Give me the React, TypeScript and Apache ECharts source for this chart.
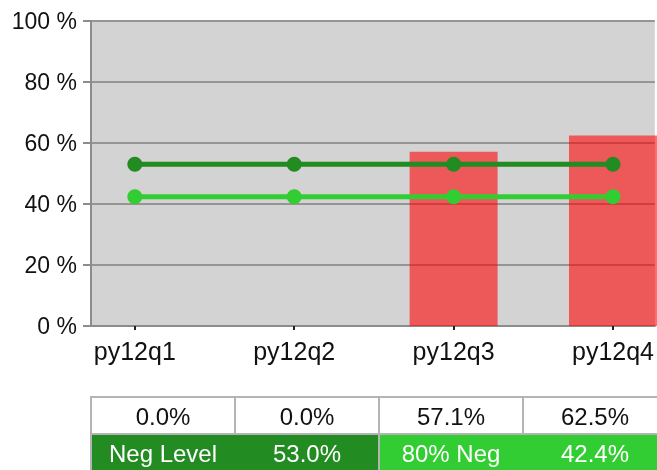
import React, { useEffect, useRef } from "react";
import * as echarts from "echarts";

const categories = ["py12q1", "py12q2", "py12q3", "py12q4"];
const barValues = [0.0, 0.0, 57.1, 62.5];
const negLevelValues = [53.0, 53.0, 53.0, 53.0];
const neg80Values = [42.4, 42.4, 42.4, 42.4];
const lineNames = ["Neg Level", "80% Neg"];
const lineColors = ["#228b22", "#32cd32"];
const yTicks = [0, 20, 40, 60, 80, 100];

const FONT = "'Liberation Sans', Arial, sans-serif";

export default function App() {
  const ref = useRef<HTMLDivElement>(null);

  useEffect(() => {
    if (!ref.current) return;
    const chart = echarts.init(ref.current, undefined, { renderer: "svg" });
    const idx = categories.map((_, i) => i);

    // table layout
    const tLeft = 91;
    const colW = 144;
    const rowH = 37;
    const row1Top = 397;
    const row2Top = row1Top + rowH;
    const border = "#b4b4b4";
    const tableFont = `24px ${FONT}`;
    const graphics: any[] = [];
    barValues.forEach((v, i) => {
      graphics.push({
        type: "rect",
        shape: { x: tLeft + i * colW, y: row1Top, width: colW, height: rowH },
        style: { fill: "#ffffff", stroke: border, lineWidth: 2 },
      });
      graphics.push({
        type: "text",
        x: tLeft + i * colW + colW / 2,
        y: row1Top + rowH / 2 + 1,
        style: {
          text: v.toFixed(1) + "%",
          fill: "#111",
          font: tableFont,
          align: "center",
          verticalAlign: "middle",
        },
      });
    });
    const lineVals = [negLevelValues[0], neg80Values[0]];
    lineNames.forEach((name, k) => {
      graphics.push({
        type: "rect",
        shape: { x: tLeft + k * 2 * colW, y: row2Top, width: colW * 2, height: rowH },
        style: { fill: lineColors[k], stroke: border, lineWidth: 2 },
      });
      graphics.push({
        type: "text",
        x: tLeft + k * 2 * colW + colW / 2,
        y: row2Top + rowH / 2 + 1,
        style: {
          text: name,
          fill: "#fff",
          font: tableFont,
          align: "center",
          verticalAlign: "middle",
        },
      });
      graphics.push({
        type: "text",
        x: tLeft + k * 2 * colW + colW * 1.5,
        y: row2Top + rowH / 2 + 1,
        style: {
          text: lineVals[k].toFixed(1) + "%",
          fill: "#fff",
          font: tableFont,
          align: "center",
          verticalAlign: "middle",
        },
      });
    });

    chart.setOption({
      animation: false,
      grid: {
        left: 91,
        top: 21,
        width: 566,
        height: 305,
        show: true,
        backgroundColor: "#d3d3d3",
        borderWidth: 0,
        containLabel: false,
      },
      xAxis: {
        type: "value",
        min: -0.275,
        max: 3.2625,
        axisLine: { show: true, onZero: false, lineStyle: { color: "#8c8c8c", width: 2 } },
        axisTick: {
          show: true,
          customValues: idx,
          length: 4,
          lineStyle: { color: "#222", width: 2 },
        },
        axisLabel: {
          customValues: idx,
          formatter: (v: number) => categories[Math.round(v)] ?? "",
          color: "#111",
          fontSize: 25,
          fontFamily: FONT,
          margin: 12,
        },
        splitLine: { show: false },
      },
      yAxis: {
        type: "value",
        min: yTicks[0],
        max: yTicks[yTicks.length - 1],
        interval: yTicks[1] - yTicks[0],
        axisLine: { show: true, onZero: false, lineStyle: { color: "#8c8c8c", width: 2 } },
        axisTick: { show: true, length: 8, lineStyle: { color: "#8c8c8c", width: 2 } },
        axisLabel: {
          formatter: "{value} %",
          color: "#111",
          fontSize: 23,
          fontFamily: FONT,
          margin: 14,
        },
        splitLine: { show: true, lineStyle: { color: "#959595", width: 2 } },
      },
      series: [
        {
          type: "bar",
          data: barValues.map((v, i) => [i, v]),
          barWidth: 88,
          itemStyle: { color: "rgba(255,0,0,0.58)" },
          z: 2,
        },
        {
          type: "line",
          name: lineNames[0],
          data: negLevelValues.map((v, i) => [i, v]),
          symbol: "circle",
          symbolSize: 15,
          lineStyle: { color: lineColors[0], width: 5 },
          itemStyle: { color: lineColors[0] },
          z: 3,
        },
        {
          type: "line",
          name: lineNames[1],
          data: neg80Values.map((v, i) => [i, v]),
          symbol: "circle",
          symbolSize: 15,
          lineStyle: { color: lineColors[1], width: 5 },
          itemStyle: { color: lineColors[1] },
          z: 3,
        },
      ],
      graphic: graphics,
    });

    return () => chart.dispose();
  }, []);

  return (
    <div
      ref={ref}
      style={{ position: "fixed", left: 0, top: 0, width: 657, height: 470 }}
    />
  );
}
